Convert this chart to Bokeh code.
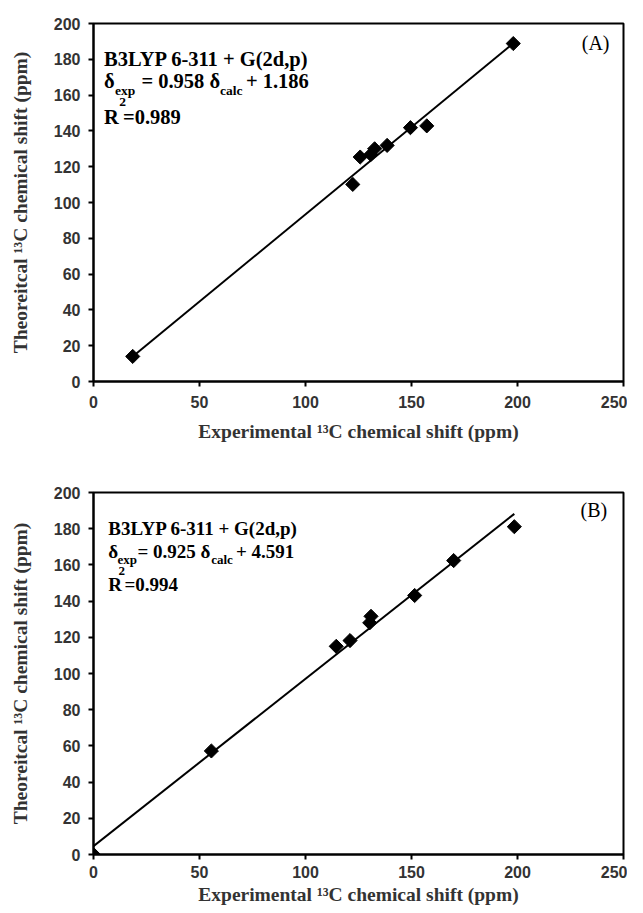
from bokeh.plotting import figure
from bokeh.models import Range1d, FixedTicker, Label, ColumnDataSource
from bokeh.layouts import column
from bokeh.embed import file_html
from bokeh.resources import INLINE
import numpy as np

# ---- data ----
exp_a = [18.5, 122.3, 125.8, 130.8, 132.6, 138.5, 149.5, 157.2, 198.0]
theo_a = [14.0, 110.1, 125.4, 126.8, 130.0, 131.9, 141.8, 142.8, 188.8]
fit_a = [0.975, -4.1]          # slope, intercept of drawn trend line

exp_b = [0.0, 55.6, 114.5, 121.0, 130.3, 130.9, 151.5, 169.9, 198.5]
theo_b = [0.0, 57.2, 115.0, 118.2, 128.0, 131.6, 143.1, 162.4, 181.1]
fit_b = [0.925, 4.591]

x_ticks = [0, 50, 100, 150, 200, 250]
y_ticks = [0, 20, 40, 60, 80, 100, 120, 140, 160, 180, 200]

x_title = "Experimental ¹³C chemical shift (ppm)"
y_title = "Theoreitcal ¹³C chemical shift (ppm)"
method = "B3LYP 6-311 + G(2d,p)"
eq_a = ["= 0.958 δ", "+ 1.186", "=0.989", "(A)"]
eq_b = ["= 0.925 δ", "+ 4.591", "=0.994", "(B)"]

SERIF = "Liberation Serif"
SANS = "Liberation Sans"


def make_panel(xs, ys, fit, eq, height, top, bottom, left, right, L):
    p = figure(width=627, height=height, output_backend="svg", toolbar_location=None,
               x_range=Range1d(0, 250), y_range=Range1d(0, 200),
               min_border_left=left, min_border_right=right,
               min_border_top=top, min_border_bottom=bottom)
    p.xgrid.visible = False
    p.ygrid.visible = False
    p.outline_line_color = "black"
    p.outline_line_width = 2
    p.outline_line_alpha = 1
    p.background_fill_color = "white"
    p.border_fill_color = "white"

    p.xaxis.ticker = FixedTicker(ticks=x_ticks)
    p.yaxis.ticker = FixedTicker(ticks=y_ticks)
    for ax in (p.xaxis, p.yaxis):
        ax.axis_line_width = 2
        ax.axis_line_color = "black"
        ax.major_tick_line_width = 2
        ax.major_tick_line_color = "black"
        ax.major_tick_in = 0
        ax.major_tick_out = 5
        ax.minor_tick_line_color = None
        ax.major_label_text_font = SANS
        ax.major_label_text_font_style = "bold"
        ax.major_label_text_font_size = "16px"
        ax.major_label_text_color = "#333333"
        ax.axis_label_text_font = SERIF
        ax.axis_label_text_font_style = "bold"
        ax.axis_label_text_font_size = "19.5px"
        ax.axis_label_text_color = "#333333"
    p.xaxis.major_label_standoff = L["xms"]
    p.yaxis.major_label_standoff = 8
    p.yaxis.axis_label_standoff = 20
    p.yaxis.axis_label = y_title
    p.xaxis.axis_label_standoff = L["xls"]
    p.xaxis.axis_label = x_title

    lx = np.array([min(xs), max(xs)])
    ly = fit[0] * lx + fit[1]
    p.line(lx, ly, line_color="black", line_width=2)

    src = ColumnDataSource(dict(x=xs, y=ys))
    p.scatter("x", "y", source=src, marker="square", angle=np.pi / 4, size=10,
              fill_color="black", line_color="black", line_width=1)

    fs = L["fs"]
    ss = L["ss"]

    def lab(x, y, t, size, style="bold", align="left"):
        p.add_layout(Label(x=x, y=y, text=t, text_font=SERIF, text_font_style=style,
                           text_font_size=size, text_baseline="middle", text_align=align,
                           text_color="black"))

    lab(L["x0"], L["y1"], method, fs)
    lab(L["x0"], L["y2"], "δ", fs)
    lab(L["x_exp"], L["ysub"], "exp", ss)
    lab(L["x_eq"], L["y2"], eq[0], fs)
    lab(L["x_calc"], L["ysub"], "calc", ss)
    lab(L["x_plus"], L["y2"], eq[1], fs)
    lab(L["x_sup"], L["ysup"], "2", ss)
    lab(L["x0"], L["y3"], "R", fs)
    lab(L["x_r"], L["y3"], eq[2], fs)
    lab(L["xtag"], L["ytag"], eq[3], "20px", style="normal", align="right")
    return p


lay_a = dict(fs="20.5px", ss="13.5px", x0=5.0, x_exp=10.2, x_eq=22.6, x_calc=59.7, x_plus=71.9,
             x_sup=12.2, x_r=13.9, y1=180.4, y2=167.6, ysub=162.8, ysup=156.3, y3=148.0,
             xtag=243.4, ytag=188.9, xms=9, xls=10)
lay_b = dict(fs="19px", ss="13px", x0=7.0, x_exp=11.3, x_eq=20.7, x_calc=55.5, x_plus=67.2,
             x_sup=11.8, x_r=14.6, y1=180.0, y2=167.2, ysub=162.8, ysup=156.7, y3=149.4,
             xtag=242.3, ytag=190.6, xms=6, xls=3)

pa = make_panel(exp_a, theo_a, fit_a, eq_a, 450, 23, 69, 91, 4, lay_a)
pb = make_panel(exp_b, theo_b, fit_b, eq_b, 459, 42, 55, 93, 2, lay_b)

layout = column(pa, pb, spacing=0)
open("out.html", "w").write(file_html(layout, INLINE))
